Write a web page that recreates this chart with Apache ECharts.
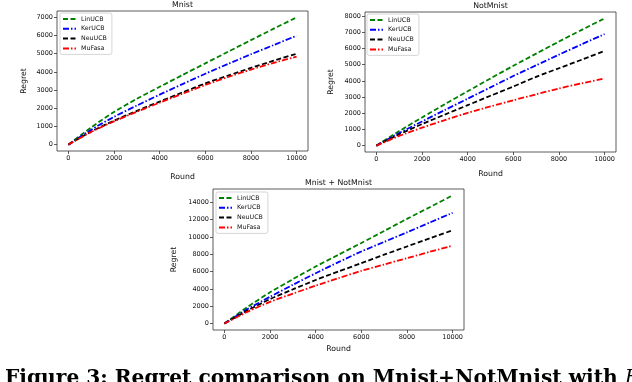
<!DOCTYPE html>
<html>
<head>
<meta charset="utf-8">
<script src="https://cdn.jsdelivr.net/npm/echarts@6/dist/echarts.min.js"></script>
<style>
html,body{margin:0;padding:0;background:#fff;}
#main{width:632px;height:382px;}
</style>
</head>
<body>
<div id="main"></div>
<script>
// ---- data ----
const rounds = [0, 1000, 2000, 3000, 4000, 5000, 6000, 7000, 8000, 9000, 10000];
const seriesNames = ['LinUCB', 'KerUCB', 'NeuUCB', 'MuFasa'];

const mnistLin = [0, 950, 1800, 2520, 3180, 3830, 4470, 5110, 5750, 6380, 7000];
const mnistKer = [0, 820, 1530, 2150, 2750, 3330, 3900, 4440, 4970, 5480, 5990];
const mnistNeu = [0, 720, 1320, 1860, 2370, 2870, 3370, 3800, 4220, 4620, 5000];
const mnistMu  = [0, 700, 1280, 1810, 2310, 2800, 3280, 3720, 4130, 4500, 4840];

const notLin = [0, 900, 1740, 2560, 3360, 4150, 4930, 5680, 6430, 7150, 7860];
const notKer = [0, 780, 1490, 2200, 2900, 3600, 4300, 4960, 5620, 6260, 6890];
const notNeu = [0, 700, 1330, 1920, 2500, 3080, 3650, 4250, 4780, 5310, 5850];
const notMu  = [0, 600, 1110, 1580, 2020, 2420, 2800, 3170, 3530, 3850, 4150];

const mixLin = [0, 1900, 3610, 5130, 6590, 7960, 9310, 10700, 12100, 13450, 14810];
const mixKer = [0, 1650, 3100, 4480, 5820, 7100, 8330, 9440, 10540, 11680, 12800];
const mixNeu = [0, 1500, 2830, 3950, 5040, 6020, 6980, 7960, 8910, 9850, 10780];
const mixMu  = [0, 1350, 2510, 3460, 4380, 5250, 6090, 6830, 7560, 8290, 9000];

const xTicks = [0, 2000, 4000, 6000, 8000, 10000];
const yTicksMnist = [0, 1000, 2000, 3000, 4000, 5000, 6000, 7000];
const yTicksNot = [0, 1000, 2000, 3000, 4000, 5000, 6000, 7000, 8000];
const yTicksMix = [0, 2000, 4000, 6000, 8000, 10000, 12000, 14000];

const titles = ['Mnist', 'NotMnist', 'Mnist + NotMnist'];
const xName = 'Round';
const yName = 'Regret';
const caption = 'Figure 3: Regret comparison on Mnist+NotMnist with ';
const captionItalic = 'H';

// ---- layout / style ----
const panels = [
  {data: [mnistLin, mnistKer, mnistNeu, mnistMu], yTicks: yTicksMnist,
   grid: {left: 57, top: 11, width: 251, height: 140}, nameGapX: 22, nameGapY: 29,
   legend: {left: 60, top: 13}},
  {data: [notLin, notKer, notNeu, notMu], yTicks: yTicksNot,
   grid: {left: 365, top: 12, width: 251, height: 140}, nameGapX: 18, nameGapY: 30,
   legend: {left: 367, top: 14}},
  {data: [mixLin, mixKer, mixNeu, mixMu], yTicks: yTicksMix,
   grid: {left: 213, top: 189, width: 251, height: 141}, nameGapX: 15, nameGapY: 35,
   legend: {left: 216, top: 192}}
];
const colors = ['#008000', '#0000ff', '#000000', '#ff0000'];
const dashes = [[5, 2.5], [6, 2, 1.5, 2], [5, 2.5], [6, 2, 1.5, 2]];
const tickFont = {fontFamily: 'DejaVu Sans', fontSize: 6.5, color: '#111'};
const labelFont = {fontFamily: 'DejaVu Sans', fontSize: 7.8, color: '#111'};

const xMin = Math.min(...rounds), xMax = Math.max(...rounds);
const xPad = (xMax - xMin) * 0.05;

const option = {
  animation: false,
  backgroundColor: '#fff',
  title: [], grid: [], xAxis: [], yAxis: [], legend: [], series: [],
  graphic: []
};

panels.forEach((p, k) => {
  const g = p.grid;
  option.grid.push(Object.assign({show: true, borderColor: '#333', borderWidth: 0.8, backgroundColor: 'transparent'}, g));
  option.title.push({
    text: titles[k], left: g.left + g.width / 2, top: g.top - 10, padding: 0,
    textAlign: 'center',
    textStyle: Object.assign({fontWeight: 'normal'}, labelFont)
  });
  option.xAxis.push({
    type: 'value', gridIndex: k, min: xMin - xPad, max: xMax + xPad,
    name: xName, nameLocation: 'middle', nameGap: p.nameGapX, nameTextStyle: labelFont,
    axisLine: {show: false, onZero: false},
    axisTick: {show: true, length: 3, customValues: xTicks, lineStyle: {color: '#333', width: 0.8}},
    axisLabel: {customValues: xTicks, margin: 4, hideOverlap: false, formatter: v => String(v), ...tickFont},
    splitLine: {show: false}
  });
  let yMax = 0;
  p.data.forEach(a => { yMax = Math.max(yMax, ...a); });
  const yPad = yMax * 0.05;
  option.yAxis.push({
    type: 'value', gridIndex: k, min: -yPad, max: yMax + yPad,
    name: yName, nameLocation: 'middle', nameGap: p.nameGapY, nameTextStyle: labelFont,
    axisLine: {show: false, onZero: false},
    axisTick: {show: true, length: 3, customValues: p.yTicks, lineStyle: {color: '#333', width: 0.8}},
    axisLabel: {customValues: p.yTicks, margin: 4, hideOverlap: false, formatter: v => String(v), ...tickFont},
    splitLine: {show: false}
  });
  option.legend.push({
    orient: 'vertical', left: p.legend.left, top: p.legend.top,
    data: seriesNames,
    itemWidth: 13, itemHeight: 8, itemGap: 1.8,
    padding: [2, 5, 2, 2],
    itemStyle: {opacity: 0},
    borderColor: '#ccc', borderWidth: 0.8, borderRadius: 2, backgroundColor: '#fff',
    textStyle: {fontFamily: 'DejaVu Sans', fontSize: 6.3, color: '#111', lineHeight: 8},
    selectedMode: false
  });
  p.data.forEach((arr, i) => {
    option.series.push({
      type: 'line', name: seriesNames[i], xAxisIndex: k, yAxisIndex: k,
      data: rounds.map((r, j) => [r, arr[j]]),
      showSymbol: false, symbol: 'none', smooth: 0.25,
      lineStyle: {color: colors[i], width: 1.8, type: dashes[i]},
      itemStyle: {color: colors[i]},
      z: 2 + i
    });
  });
});

option.graphic.push({
  type: 'text', left: 5, top: 369, silent: true,
  style: {
    text: '{b|' + caption + '}{i|' + captionItalic + '}',
    rich: {
      b: {font: 'bold 20.2px "DejaVu Serif"', fill: '#000'},
      i: {font: 'italic 20.2px "DejaVu Serif"', fill: '#000'}
    }
  }
});

const chart = echarts.init(document.getElementById('main'), null, {renderer: 'canvas'});
chart.setOption(option);
</script>
</body>
</html>
